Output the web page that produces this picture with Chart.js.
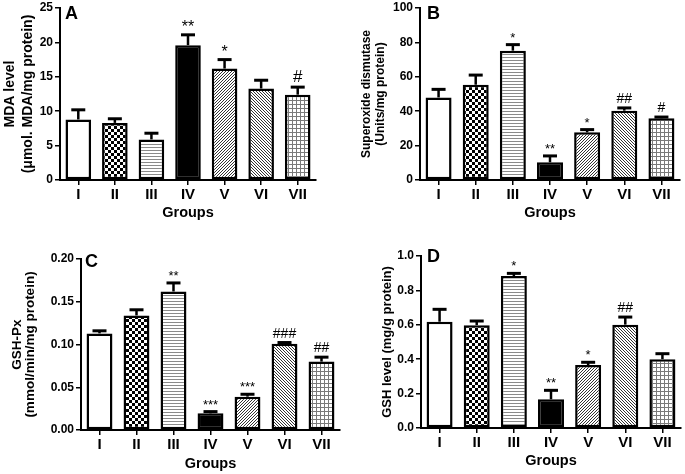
<!DOCTYPE html>
<html><head><meta charset="utf-8">
<script src="https://cdn.jsdelivr.net/npm/chart.js@4.4.0/dist/chart.umd.min.js"></script>
<style>
html,body{margin:0;padding:0;background:#fff;width:685px;height:474px;overflow:hidden;}
canvas{position:absolute;}
</style></head><body>
<canvas id="cA" width="340" height="235" style="left:0px;top:0px"></canvas>
<canvas id="cB" width="345" height="235" style="left:340px;top:0px"></canvas>
<canvas id="cC" width="345" height="239" style="left:0px;top:235px"></canvas>
<canvas id="cD" width="345" height="239" style="left:340px;top:235px"></canvas>
<script>
// ---- data ----
const groups = ['I', 'II', 'III', 'IV', 'V', 'VI', 'VII'];

const mdaMean = [8.8, 8.3, 5.9, 19.6, 16.2, 13.3, 12.4];
const mdaSem  = [1.4, 0.6, 0.9, 1.5, 1.3, 1.2, 1.1];
const mdaSig  = ['', '', '', '**', '*', '', '#'];

const sodMean = [48.0, 55.4, 75.2, 10.3, 27.7, 40.3, 35.9];
const sodSem  = [4.7, 5.6, 3.5, 3.7, 1.6, 1.6, 0.7];
const sodSig  = ['', '', '*', '**', '*', '##', '#'];

const gpxMean = [0.113, 0.134, 0.162, 0.0195, 0.039, 0.1008, 0.080];
const gpxSem  = [0.003, 0.0066, 0.010, 0.002, 0.0028, 0.0015, 0.0052];
const gpxSig  = ['', '', '**', '***', '***', '###', '##'];

const gshMean = [0.618, 0.598, 0.883, 0.167, 0.366, 0.601, 0.400];
const gshSem  = [0.072, 0.024, 0.016, 0.052, 0.016, 0.044, 0.032];
const gshSig  = ['', '', '*', '**', '*', '##', ''];

const mdaTicks = {min: 0, max: 25, step: 5, digits: 0};
const sodTicks = {min: 0, max: 100, step: 20, digits: 0};
const gpxTicks = {min: 0, max: 0.20, step: 0.05, digits: 2};
const gshTicks = {min: 0, max: 1.0, step: 0.2, digits: 1};

// ---- styling ----
Chart.defaults.font.family = "'Liberation Sans', Arial, sans-serif";
Chart.defaults.color = '#000';

function makeFill(kind) {
  if (kind === 'white') return '#ffffff';
  if (kind === 'black') return '#000000';
  const c = document.createElement('canvas');
  const ctx = c.getContext('2d');
  if (kind === 'check') {
    c.width = 6; c.height = 6;
    ctx.fillStyle = '#fff'; ctx.fillRect(0, 0, 6, 6);
    ctx.fillStyle = '#000'; ctx.fillRect(0, 0, 3, 3); ctx.fillRect(3, 3, 3, 3);
  } else if (kind === 'hlines') {
    c.width = 4; c.height = 3;
    ctx.fillStyle = '#fff'; ctx.fillRect(0, 0, 4, 3);
    ctx.fillStyle = '#8a8a8a'; ctx.fillRect(0, 0, 4, 1);
  } else if (kind === 'fdiag') {
    c.width = 3; c.height = 3;
    ctx.fillStyle = '#fff'; ctx.fillRect(0, 0, 3, 3);
    ctx.fillStyle = '#333';
    for (let i = 0; i < 3; i++) ctx.fillRect(i, 2 - i, 1, 1);
  } else if (kind === 'bdiag') {
    c.width = 3; c.height = 3;
    ctx.fillStyle = '#fff'; ctx.fillRect(0, 0, 3, 3);
    ctx.fillStyle = '#333';
    for (let i = 0; i < 3; i++) ctx.fillRect(i, i, 1, 1);
  } else if (kind === 'grid') {
    c.width = 4; c.height = 4;
    ctx.fillStyle = '#fff'; ctx.fillRect(0, 0, 4, 4);
    ctx.fillStyle = '#7a7a7a'; ctx.fillRect(0, 0, 4, 1); ctx.fillRect(0, 0, 1, 4);
  }
  return document.createElement('canvas').getContext('2d').createPattern(c, 'repeat');
}
const fills = ['white', 'check', 'hlines', 'black', 'fdiag', 'bdiag', 'grid'].map(makeFill);

const errPlugin = {
  id: 'errbars',
  afterDatasetsDraw(chart, args, o) {
    const ctx = chart.ctx;
    const ys = chart.scales.y;
    const ds = chart.data.datasets[0];
    const meta = chart.getDatasetMeta(0);
    ctx.save();
    meta.data.forEach((bar, i) => {
      const m = ds.data[i], e = o.sem[i];
      const yb = ys.getPixelForValue(m), yt = ys.getPixelForValue(m + e);
      const x = bar.x;
      ctx.strokeStyle = '#000';
      ctx.lineWidth = 2.5;
      ctx.beginPath(); ctx.moveTo(x, yb); ctx.lineTo(x, yt); ctx.stroke();
      ctx.lineWidth = 3;
      ctx.beginPath(); ctx.moveTo(x - 7, yt); ctx.lineTo(x + 7, yt); ctx.stroke();
      const s = o.sig[i];
      if (s) {
        ctx.fillStyle = '#000';
        ctx.textAlign = 'center';
        ctx.textBaseline = 'alphabetic';
        if (s[0] === '*') {
          ctx.font = o.starSize + "px 'Liberation Sans', Arial, sans-serif";
          ctx.fillText(s, x, yt - 3);
        } else {
          ctx.font = o.hashSize + "px 'Liberation Sans', Arial, sans-serif";
          ctx.fillText(s, x, yt - 5);
        }
      }
    });
    const a = chart.chartArea;
    ctx.font = "bold 18px 'Liberation Sans', Arial, sans-serif";
    ctx.textAlign = 'left';
    ctx.textBaseline = 'middle';
    ctx.fillStyle = '#000';
    ctx.fillText(o.letter, a.left + o.lx, a.top + o.ly);
    ctx.restore();
  }
};

function panel(id, cfg) {
  const el = document.getElementById(id);
  const W = el.width, H = el.height;
  const t = cfg.ticks;
  new Chart(el, {
    type: 'bar',
    data: {
      labels: groups,
      datasets: [{
        data: cfg.mean,
        backgroundColor: fills,
        borderColor: '#000',
        borderWidth: 2.5,
        borderSkipped: false,
        barPercentage: 0.7,
        categoryPercentage: 1.0
      }]
    },
    options: {
      responsive: false,
      animation: false,
      devicePixelRatio: 1,
      layout: {padding: {left: 0, top: cfg.area.top, right: W - cfg.area.right, bottom: 0}},
      plugins: {
        legend: {display: false},
        tooltip: {enabled: false},
        errbars: {sem: cfg.sem, sig: cfg.sig, letter: cfg.letter, lx: cfg.lx, ly: cfg.ly,
                  starSize: cfg.starSize, hashSize: cfg.hashSize}
      },
      scales: {
        x: {
          offset: true,
          ticks: {color: '#000', font: {size: 15, weight: 'bold'}, padding: 1},
          grid: {display: true, drawOnChartArea: false, offset: false, drawTicks: true, tickLength: 5, color: '#000', lineWidth: 1.5},
          border: {display: true, color: '#000', width: 2},
          title: {display: true, text: 'Groups', color: '#000', font: {size: 14.5, weight: 'bold', lineHeight: 1.2},
                  padding: {top: 0, bottom: cfg.xTitlePad}},
          afterFit: s => { s.height = H - cfg.area.bottom; s.paddingLeft = 0; s.paddingRight = 0; }
        },
        y: {
          min: t.min, max: t.max,
          ticks: {stepSize: t.step, color: '#000', font: {size: 12, weight: 'bold'}, padding: 2,
                  callback: v => Number(v).toFixed(t.digits)},
          grid: {display: true, drawOnChartArea: false, drawTicks: true, tickLength: 5, color: '#000', lineWidth: 1.5},
          border: {display: true, color: '#000', width: 2},
          title: {display: true, text: cfg.yTitle, color: '#000',
                  font: {size: cfg.yTitleSize, weight: 'bold', lineHeight: cfg.yTitleLH},
                  padding: {top: cfg.yTitlePad, bottom: 0}},
          afterFit: s => { s.width = cfg.area.left; s.paddingTop = 0; s.paddingBottom = 0; }
        }
      }
    },
    plugins: [errPlugin]
  });
}

panel('cA', {mean: mdaMean, sem: mdaSem, sig: mdaSig, ticks: mdaTicks, letter: 'A', lx: 5, ly: 6,
  area: {left: 60, right: 316, top: 8, bottom: 180},
  yTitle: ['MDA level', '(μmol. MDA/mg protein)'], yTitleSize: 14, yTitleLH: 18 / 14, yTitlePad: 1,
  xTitlePad: 13, starSize: 16, hashSize: 17});
panel('cB', {mean: sodMean, sem: sodSem, sig: sodSig, ticks: sodTicks, letter: 'B', lx: 7, ly: 6,
  area: {left: 80, right: 340, top: 8, bottom: 180},
  yTitle: ['Superoxide dismutase', '(Units/mg protein)'], yTitleSize: 12, yTitleLH: 13.5 / 12, yTitlePad: 20,
  xTitlePad: 13, starSize: 13, hashSize: 14});
panel('cC', {mean: gpxMean, sem: gpxSem, sig: gpxSig, ticks: gpxTicks, letter: 'C', lx: 4, ly: 3,
  area: {left: 81, right: 340, top: 24, bottom: 195},
  yTitle: ['GSH-Px', '(mmol/min/mg protein)'], yTitleSize: 13.5, yTitleLH: 1.0, yTitlePad: 10.5,
  xTitlePad: 1.5, starSize: 13, hashSize: 14});
panel('cD', {mean: gshMean, sem: gshSem, sig: gshSig, ticks: gshTicks, letter: 'D', lx: 6, ly: 1,
  area: {left: 81, right: 341, top: 21, bottom: 193},
  yTitle: 'GSH level (mg/g protein)', yTitleSize: 13, yTitleLH: 1.2, yTitlePad: 39.5,
  xTitlePad: 4.5, starSize: 13, hashSize: 14});
</script>
</body></html>
